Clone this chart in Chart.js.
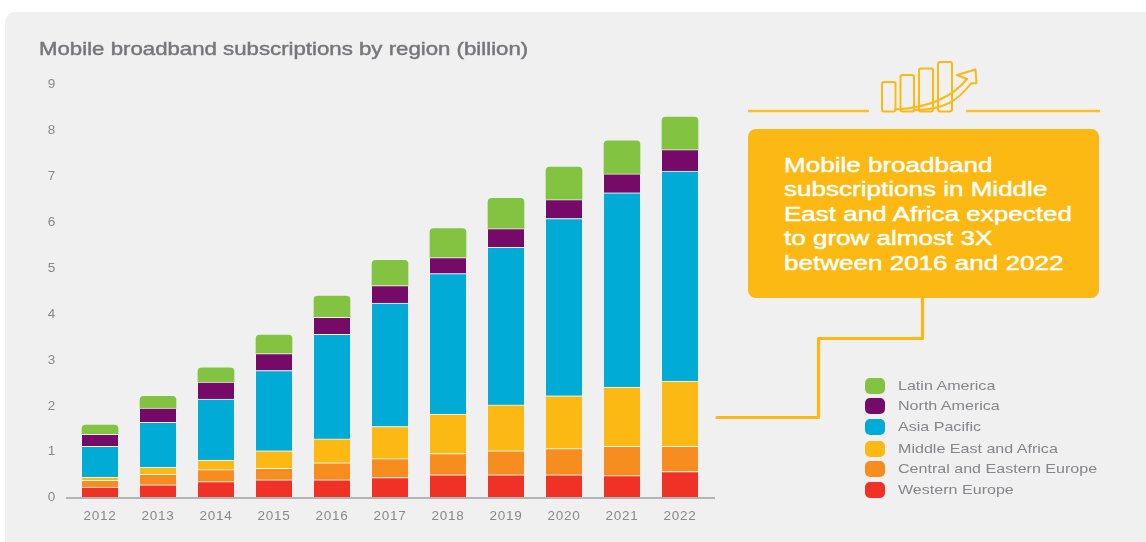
<!DOCTYPE html>
<html>
<head>
<meta charset="utf-8">
<script src="https://cdn.jsdelivr.net/npm/chart.js@4/dist/chart.umd.min.js"></script>
<style>
  html, body { margin: 0; padding: 0; background: #fff; width: 1146px; height: 542px; overflow: hidden; }
  #panel { position: absolute; left: 5px; top: 12px; width: 1141px; height: 530px; background: #f0f0f0; border-radius: 10px 0 0 0; }
  #chart { position: absolute; left: 0; top: 0; }
  .txt { position: absolute; font-family: "Liberation Sans", sans-serif; white-space: nowrap; transform-origin: 0 0; }
  #title { left: 39px; top: 39px; font-size: 17.5px; line-height: 20px; color: #77777b; -webkit-text-stroke: 0.45px #77777b; transform: scaleX(1.27); }
  #callout { position: absolute; left: 748px; top: 129px; width: 351px; height: 169px; background: #fdb913; border-radius: 8px; }
  #calloutText { left: 784px; top: 153px; font-size: 20.5px; line-height: 24.4px; color: #fff; -webkit-text-stroke: 0.45px #fff; transform: scaleX(1.27); }
  #decor { position: absolute; left: 0; top: 0; }
  .swatch { position: absolute; left: 865px; width: 20px; height: 16px; border-radius: 5px; }
  .legendLabel { left: 898px; font-size: 13.5px; line-height: 16px; color: #85858a; transform: scaleX(1.19); }
</style>
</head>
<body>
<div id="panel"></div>
<canvas id="chart" width="1146" height="542"></canvas>
<svg id="decor" width="1146" height="542" fill="none" stroke="#fdb913" stroke-linecap="round" stroke-linejoin="round">
  <path d="M749 111H868M967 111H1099" stroke-width="2.4" stroke="#fdbe2e"/>
  <path d="M922.5 298V338.5H818.5V417.5H717" stroke-width="3.2"/>
  <g stroke-width="2">
    <rect x="882" y="82" width="13.5" height="29.5" rx="2"/>
    <rect x="900.5" y="75" width="13.5" height="36.5" rx="2"/>
    <rect x="919" y="68.5" width="14" height="43" rx="2"/>
    <rect x="938" y="62" width="14" height="49.5" rx="2"/>
    <path d="M895 109.5C925 108 950 100 967 79M915 110C945 110 958 100 971 83.5"/>
    <path d="M957 75L975.5 69.5L976.5 83L971 83.5M957 75L967 79"/>
  </g>
</svg>
<div id="callout"></div>
<div id="calloutText" class="txt">Mobile broadband<br>subscriptions in Middle<br>East and Africa expected<br>to grow almost 3X<br>between 2016 and 2022</div>
<div id="title" class="txt">Mobile broadband subscriptions by region (billion)</div>
<div id="legend"></div>
<script>
// Subscriptions in billions, one array per region, 2012 to 2022.
const years = ["2012","2013","2014","2015","2016","2017","2018","2019","2020","2021","2022"];
const westernEurope = [0.23,0.28,0.35,0.39,0.39,0.44,0.50,0.50,0.50,0.48,0.57];
const centralEasternEurope = [0.15,0.23,0.26,0.25,0.37,0.41,0.46,0.52,0.57,0.64,0.55];
const middleEastAfrica = [0.07,0.15,0.21,0.38,0.52,0.70,0.86,1.00,1.15,1.29,1.42];
const asiaPacific = [0.67,0.98,1.33,1.75,2.28,2.69,3.06,3.43,3.86,4.23,4.57];
const northAmerica = [0.26,0.31,0.37,0.37,0.37,0.38,0.35,0.41,0.41,0.41,0.47];
const latinAmerica = [0.20,0.26,0.31,0.40,0.46,0.55,0.63,0.66,0.71,0.72,0.71];

const seam = { top: 1, left: 0, right: 0, bottom: 0 };
const seamColor = "rgba(255,255,255,0.75)";
const series = (label, data, color, extra) => Object.assign({
  label, data, backgroundColor: color, borderColor: seamColor, borderWidth: seam,
  borderSkipped: false, barThickness: 36
}, extra);

const tickColor = "#88888c";
const tickFont = { family: '"Liberation Sans", sans-serif', size: 13.5 };

// Baseline runs a little past the plot area on both sides.
const baseline = {
  id: "baseline",
  beforeDraw(chart) { chart.ctx.letterSpacing = "0.75px"; },
  afterDatasetsDraw(chart) {
    const { ctx, chartArea, scales } = chart;
    const y = Math.round(scales.y.getPixelForValue(0));
    ctx.save();
    ctx.strokeStyle = "#b4b4b6";
    ctx.lineWidth = 2;
    ctx.beginPath();
    ctx.moveTo(chartArea.left - 5, y);
    ctx.lineTo(chartArea.right + 6, y);
    ctx.stroke();
    ctx.restore();
  }
};

const chart = new Chart(document.getElementById("chart"), {
  type: "bar",
  data: {
    labels: years,
    datasets: [
      series("Western Europe", westernEurope, "#f03226"),
      series("Central and Eastern Europe", centralEasternEurope, "#f78d1e"),
      series("Middle East and Africa", middleEastAfrica, "#fdb913"),
      series("Asia Pacific", asiaPacific, "#00abd6"),
      series("North America", northAmerica, "#760a69"),
      series("Latin America", latinAmerica, "#82c341", {
        borderWidth: 0,
        borderRadius: { topLeft: 4, topRight: 4, bottomLeft: 0, bottomRight: 0 }
      })
    ]
  },
  plugins: [baseline],
  options: {
    responsive: false,
    animation: false,
    layout: { padding: { left: 0, right: 437, top: 84.4, bottom: 0 } },
    plugins: { legend: { display: false }, title: { display: false }, tooltip: { enabled: false } },
    scales: {
      x: {
        stacked: true,
        grid: { display: false, drawTicks: false },
        border: { display: false },
        ticks: { color: tickColor, font: tickFont, padding: 10, maxRotation: 0 },
        afterFit(s) { s.height = 44.3; }
      },
      y: {
        stacked: true,
        min: 0,
        max: 9,
        grid: { display: false, drawTicks: false },
        border: { display: false },
        ticks: { color: tickColor, font: tickFont, padding: 15, stepSize: 1 },
        afterFit(s) { s.width = 71; }
      }
    }
  }
});

// Legend list, top stack layer first, with the rows placed by hand.
const legendRows = [385.7, 406.3, 427, 448.7, 469.3, 490.3];
const legend = document.getElementById("legend");
chart.data.datasets.slice().reverse().forEach((d, i) => {
  const sw = document.createElement("div");
  sw.className = "swatch";
  sw.style.background = d.backgroundColor;
  sw.style.top = (legendRows[i] - 8) + "px";
  const lb = document.createElement("div");
  lb.className = "txt legendLabel";
  lb.textContent = d.label;
  lb.style.top = (legendRows[i] - 8) + "px";
  legend.append(sw, lb);
});
</script>
</body>
</html>
